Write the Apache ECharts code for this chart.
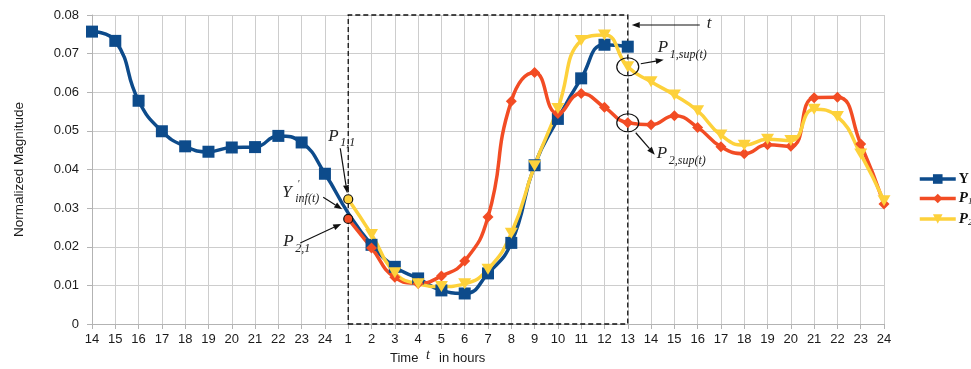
<!DOCTYPE html>
<html>
<head>
<meta charset="utf-8">
<script src="https://cdn.jsdelivr.net/npm/echarts@6/dist/echarts.min.js"></script>
<style>
html, body { margin: 0; padding: 0; background: #ffffff; }
#chart { width: 971px; height: 369px; }
</style>
</head>
<body>
<div id="chart"></div>
<script>
// Hour of day along the time axis (two consecutive days)
const hours = ['14','15','16','17','18','19','20','21','22','23','24',
  '1','2','3','4','5','6','7','8','9','10','11','12','13',
  '14','15','16','17','18','19','20','21','22','23','24'];

// Observed signal Y (known up to hour 13)
const valuesY = [0.0757, 0.0733, 0.0578, 0.0499, 0.0460, 0.0446, 0.0457, 0.0458, 0.0487, 0.0470, 0.0389,
  0.0287, 0.0205, 0.0148, 0.0118, 0.0087, 0.0079, 0.0131, 0.0210, 0.0411, 0.0531, 0.0636, 0.0723, 0.0718,
  null, null, null, null, null, null, null, null, null, null, null];

// Profile P1
const valuesP1 = [null, null, null, null, null, null, null, null, null, null, null,
  0.0272, 0.0197, 0.0121, 0.0105, 0.0124, 0.0163, 0.0277, 0.0577, 0.0651, 0.0545, 0.0597, 0.0561, 0.0521,
  0.0516, 0.0539, 0.0509, 0.0459, 0.0441, 0.0464, 0.0460, 0.0586, 0.0587, 0.0466, 0.0311];

// Profile P2
const valuesP2 = [null, null, null, null, null, null, null, null, null, null, null,
  0.0323, 0.0232, 0.0133, 0.0104, 0.0097, 0.0104, 0.0142, 0.0235, 0.0410, 0.0558, 0.0734, 0.0748, 0.0666,
  0.0627, 0.0593, 0.0552, 0.0489, 0.0463, 0.0478, 0.0475, 0.0556, 0.0537, 0.0440, 0.0319];

const yTicks = { min: 0, max: 0.08, interval: 0.01 };

const startIdx = hours.indexOf('1');   // window start (hour 1)
const endIdx = hours.indexOf('13');    // window end (hour 13)

const COLOR_Y = '#0d4b8b';
const COLOR_P1 = '#f24c24';
const COLOR_P2 = '#fdd13b';
const SERIF = '"Liberation Serif", "DejaVu Serif", serif';
const SANS = '"Liberation Sans", Arial, sans-serif';

// the first point of the window is drawn as an annotated circle instead of a marker
function buildData(arr) {
  return arr.map((v, i) => (i === startIdx && v != null) ? { value: v, symbol: 'none' } : v);
}

const chart = echarts.init(document.getElementById('chart'), null, { renderer: 'canvas' });

const option = {
  animation: false,
  backgroundColor: '#ffffff',
  grid: { left: 92, right: 87, top: 15, bottom: 45, containLabel: false },
  legend: {
    orient: 'vertical',
    left: 918,
    top: 172,
    padding: 0,
    itemWidth: 36,
    itemHeight: 12,
    itemGap: 5,
    lineStyle: { width: 3.5 },
    data: ['Y', 'P1', 'P2'],
    formatter: function (name) {
      if (name === 'Y') return '{y|Y}';
      return '{p|P}{s|' + name.slice(1) + '}';
    },
    textStyle: {
      color: '#111',
      padding: [0, 0, 0, -2],
      rich: {
        y: { fontFamily: SERIF, fontWeight: 'bold', fontSize: 14, lineHeight: 14 },
        p: { fontFamily: SERIF, fontStyle: 'italic', fontWeight: 'bold', fontSize: 15, lineHeight: 14 },
        s: { fontFamily: SERIF, fontStyle: 'italic', fontSize: 9, lineHeight: 16, verticalAlign: 'bottom' }
      }
    }
  },
  xAxis: {
    type: 'category',
    data: hours,
    boundaryGap: false,
    axisLine: { lineStyle: { color: '#b3b3b3', width: 1 } },
    axisTick: { show: true, interval: 0, length: 5, lineStyle: { color: '#b3b3b3' } },
    axisLabel: { interval: 0, color: '#1a1a1a', fontFamily: SANS, fontSize: 13, margin: 9 },
    splitLine: { show: true, interval: 0, lineStyle: { color: '#cdcdcd', width: 1 } }
  },
  yAxis: {
    type: 'value',
    min: yTicks.min,
    max: yTicks.max,
    interval: yTicks.interval,
    name: 'Normalized Magnitude',
    nameLocation: 'middle',
    nameGap: 66,
    nameTextStyle: { color: '#1a1a1a', fontFamily: SANS, fontSize: 13.5 },
    axisLine: { show: true, lineStyle: { color: '#b3b3b3', width: 1 } },
    axisTick: { show: true, length: 5, lineStyle: { color: '#b3b3b3' } },
    axisLabel: { color: '#1a1a1a', fontFamily: SANS, fontSize: 13, margin: 13 },
    splitLine: { show: true, lineStyle: { color: '#cdcdcd', width: 1 } }
  },
  series: [
    {
      name: 'Y',
      type: 'line',
      data: buildData(valuesY),
      smooth: 0.5,
      connectNulls: false,
      symbol: 'rect',
      symbolSize: 12,
      lineStyle: { color: COLOR_Y, width: 3.5 },
      itemStyle: { color: COLOR_Y },
      markArea: {
        silent: true,
        itemStyle: { color: 'rgba(0,0,0,0)', borderColor: '#111', borderWidth: 1.3, borderType: [5, 3] },
        data: [[{ xAxis: startIdx, yAxis: yTicks.min }, { xAxis: endIdx, yAxis: yTicks.max }]]
      }
    },
    {
      name: 'P1',
      type: 'line',
      data: buildData(valuesP1),
      smooth: 0.5,
      symbol: 'diamond',
      symbolSize: 11,
      lineStyle: { color: COLOR_P1, width: 3.5 },
      itemStyle: { color: COLOR_P1 }
    },
    {
      name: 'P2',
      type: 'line',
      data: buildData(valuesP2),
      smooth: 0.5,
      symbol: 'triangle',
      symbolRotate: 180,
      symbolSize: [13, 11],
      lineStyle: { color: COLOR_P2, width: 3.5 },
      itemStyle: { color: COLOR_P2 }
    }
  ]
};

chart.setOption(option);

// ---- annotations anchored to data points ----
function px(idx, val) {
  return chart.convertToPixel({ xAxisIndex: 0, yAxisIndex: 0 }, [idx, val]);
}

function arrow(x1, y1, x2, y2) {
  const dx = x2 - x1, dy = y2 - y1;
  const len = Math.sqrt(dx * dx + dy * dy);
  const ux = dx / len, uy = dy / len;
  const head = 8, half = 3;
  const bx = x2 - ux * head, by = y2 - uy * head;
  return [
    { type: 'line', shape: { x1: x1, y1: y1, x2: bx, y2: by }, style: { stroke: '#111', lineWidth: 1.2 }, z: 100 },
    { type: 'polygon', shape: { points: [[x2, y2], [bx - uy * half, by + ux * half], [bx + uy * half, by - ux * half]] },
      style: { fill: '#111' }, z: 100 }
  ];
}

function mathLabel(x, y, main, sub, sup) {
  const els = [
    { type: 'text', x: x, y: y, style: { text: main, font: 'italic 17px ' + SERIF, fill: '#222', verticalAlign: 'middle' }, z: 100 }
  ];
  const w = main === 'P' ? 11 : 12;
  if (sub) {
    els.push({ type: 'text', x: x + w + 1, y: y + 7, style: { text: sub, font: 'italic 12px ' + SERIF, fill: '#222', verticalAlign: 'middle' }, z: 100 });
  }
  if (sup) {
    els.push({ type: 'text', x: x + w + 3, y: y - 8, style: { text: sup, font: 'italic 10px ' + SERIF, fill: '#222', verticalAlign: 'middle' }, z: 100 });
  }
  return els;
}

const a1 = px(startIdx, valuesP2[startIdx]);   // P2 at window start
const b1 = px(startIdx, valuesP1[startIdx]);   // P1 at window start
const cS = px(endIdx, valuesP2[endIdx]);       // P2 at window end
const dS = px(endIdx, valuesP1[endIdx]);       // P1 at window end
const topEnd = px(endIdx, yTicks.max);

let g = [];
// start-of-window markers
g.push({ type: 'circle', shape: { cx: a1[0], cy: a1[1], r: 4.5 }, style: { fill: COLOR_P2, stroke: '#111', lineWidth: 1.2 }, z: 101 });
g.push({ type: 'circle', shape: { cx: b1[0], cy: b1[1], r: 4.5 }, style: { fill: COLOR_P1, stroke: '#111', lineWidth: 1.2 }, z: 101 });
g = g.concat(mathLabel(a1[0] - 20, a1[1] - 63, 'P', '1,1'));
g = g.concat(arrow(a1[0] - 8, a1[1] - 51, a1[0] - 1, a1[1] - 6));
g = g.concat(mathLabel(a1[0] - 66, a1[1] - 7, 'Y', 'inf(t)', '\u2032'));
g = g.concat(arrow(a1[0] - 25, a1[1] - 2, a1[0] - 6, a1[1] + 10));
g = g.concat(mathLabel(b1[0] - 65, b1[1] + 23, 'P', '2,1'));
g = g.concat(arrow(b1[0] - 48, b1[1] + 24, b1[0] - 7, b1[1] + 5));

// end-of-window markers
g.push({ type: 'ellipse', shape: { cx: cS[0], cy: cS[1], rx: 11, ry: 9 }, style: { fill: 'none', stroke: '#111', lineWidth: 1.2 }, z: 101 });
g.push({ type: 'ellipse', shape: { cx: dS[0], cy: dS[1], rx: 11, ry: 9 }, style: { fill: 'none', stroke: '#111', lineWidth: 1.2 }, z: 101 });
g = g.concat(arrow(cS[0] + 13, cS[1] - 3, cS[0] + 36, cS[1] - 7));
g = g.concat(mathLabel(cS[0] + 30, cS[1] - 19, 'P', '1,sup(t)'));
g = g.concat(arrow(dS[0] + 8, dS[1] + 10, dS[0] + 27, dS[1] + 32));
g = g.concat(mathLabel(dS[0] + 29, dS[1] + 31, 'P', '2,sup(t)'));

// current time marker
g = g.concat(arrow(topEnd[0] + 72, topEnd[1] + 10, topEnd[0] + 4, topEnd[1] + 10));
g.push({ type: 'text', x: topEnd[0] + 79, y: topEnd[1] + 9, style: { text: 't', font: 'italic 17px ' + SERIF, fill: '#222', verticalAlign: 'middle' }, z: 100 });

// x-axis title
g.push({ type: 'text', x: 390, y: 358, style: { text: 'Time', font: '13px ' + SANS, fill: '#1a1a1a', verticalAlign: 'middle' }, z: 100 });
g.push({ type: 'text', x: 426, y: 355, style: { text: 't', font: 'italic 14px ' + SERIF, fill: '#1a1a1a', verticalAlign: 'middle' }, z: 100 });
g.push({ type: 'text', x: 439, y: 358, style: { text: 'in hours', font: '13px ' + SANS, fill: '#1a1a1a', verticalAlign: 'middle' }, z: 100 });

chart.setOption({ graphic: { elements: g } });
</script>
</body>
</html>
